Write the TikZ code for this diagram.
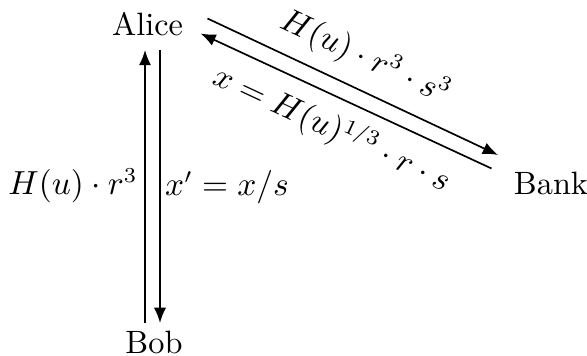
\documentclass[tikz,border=0pt]{standalone}
\usetikzlibrary{arrows.meta}
\begin{document}
\begin{tikzpicture}[x=0.328pt,y=-0.328pt,
  font=\fontsize{10.6}{13}\selectfont,
  party/.style={inner sep=0pt},
  lbl/.style={inner sep=0pt},
  msg/.style={-{Latex[length=5pt,width=4pt]}, line width=0.55pt}]
\useasboundingbox (0,0) rectangle (587,356);
\node[party] (Alice) at (147.5,24) {Alice};
\node[party] (Bob) at (154,342) {Bob};
\node[party] (Bank) at (551,183) {Bank};
% vertical connectors
\coordinate (bL) at (145,323);
\coordinate (aL) at (145,50);
\coordinate (aR) at (160,50);
\coordinate (bR) at (160,323);
\draw[msg] (bL) -- (aL);
\draw[msg] (aR) -- (bR);
% diagonal connectors
\coordinate (aU) at (207.5,18.5);
\coordinate (kU) at (498,155);
\coordinate (kD) at (491.5,168.5);
\coordinate (aD) at (200.5,33.5);
\draw[msg] (aU) -- (kU);
\draw[msg] (kD) -- (aD);
% labels
\node[lbl] (l1) at (73,186) {$H(u)\cdot r^3$};
\node[lbl] (l2) at (227,187) {$x' = x/s$};
\node[lbl, rotate=-25] (l3) at (365,58) {$H(u)\cdot r^3\cdot s^3$};
\node[lbl, rotate=-25] (l4) at (332,129) {$x = H(u)^{1/3}\cdot r\cdot s$};
\end{tikzpicture}
\end{document}
